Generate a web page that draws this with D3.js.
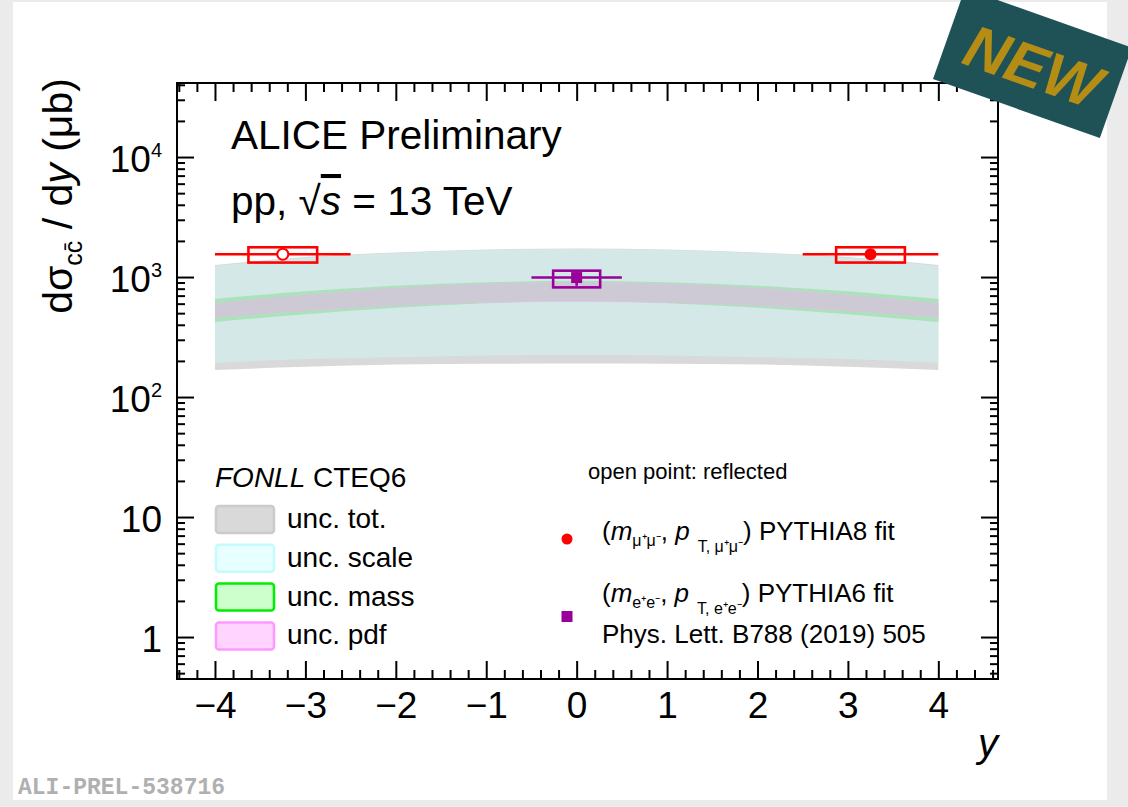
<!DOCTYPE html>
<html>
<head>
<meta charset="utf-8">
<script src="https://cdn.jsdelivr.net/npm/d3@7"></script>
<style>
  body { margin: 0; background: #ebebeb; }
  svg text { font-family: "Liberation Sans", Arial, sans-serif; }
</style>
</head>
<body>
<div class="chart"></div>
<script>
// FONLL bands at y = -4 ... 4
var bandY   = [-4, -3, -2, -1, 0, 1, 2, 3, 4];
var totHi   = [1260, 1470, 1600, 1695, 1730, 1695, 1600, 1470, 1260];
var totLo   = [168, 179, 187, 189, 190, 189, 187, 179, 168];
var scaleHi = [1235, 1448, 1582, 1680, 1715, 1680, 1582, 1448, 1235];
var scaleLo = [193, 207, 215, 222, 224, 222, 215, 207, 193];
var massHi  = [656, 760, 845, 905, 930, 905, 845, 760, 656];
var massLo  = [422, 490, 555, 605, 628, 605, 555, 490, 422];
var pdfHi   = [607, 716, 815, 885, 905, 885, 815, 716, 607];
var pdfLo   = [455, 518, 575, 610, 618, 610, 575, 518, 455];

// dimuon points (open one = reflected)
var muY      = [-3.25, 3.25];
var muVal    = [1550, 1550];
var muStat   = [60, 60];
var muSystLo = [1320, 1320];
var muSystHi = [1770, 1770];
var muXerr   = [0.75, 0.75];
var muBoxW   = [0.38, 0.38];
var muOpen   = [true, false];

// dielectron point
var eeY      = [0];
var eeVal    = [990];
var eeStat   = [145];
var eeSystLo = [820];
var eeSystHi = [1130];
var eeXerr   = [0.5];
var eeBoxW   = [0.26];

// ticks
var xTickValues = [-4, -3, -2, -1, 0, 1, 2, 3, 4];
var xTickLabels = ["\u22124", "\u22123", "\u22122", "\u22121", "0", "1", "2", "3", "4"];
var yTickValues = [1, 10, 100, 1000, 10000];
var yTickBase   = ["1", "10", "10", "10", "10"];
var yTickExp    = ["", "", "2", "3", "4"];

var legendLabels = ["unc. tot.", "unc. scale", "unc. mass", "unc. pdf"];

// frame
var Margin = {left: 177, top: 83};
var Width = 821, Height = 596;

var svg = d3.select(".chart").append("svg")
    .attr("width", 1128)
    .attr("height", 807);

// white canvas
svg.append("rect")
  .attr("x", 13).attr("y", 2)
  .attr("width", 1094).attr("height", 798)
  .attr("fill", "white");

var g = svg.append("g")
    .attr("transform", "translate(" + Margin.left + "," + Margin.top + ")");

var x = d3.scaleLinear().domain([-4.42, 4.66]).range([0, Width]);
var y = d3.scaleLog().domain([0.447, 41400]).range([Height, 0]);

// build band rows
function rows(lo, hi) {
  return bandY.map(function(v, i) { return {y: v, lo: lo[i], hi: hi[i]}; });
}
var overlapLo = massLo.map(function(v, i) { return Math.max(v, pdfLo[i]); });
var overlapHi = massHi.map(function(v, i) { return Math.min(v, pdfHi[i]); });

var band = d3.area()
  .curve(d3.curveMonotoneX)
  .x(function(d) { return x(d.y); })
  .y0(function(d) { return y(d.lo); })
  .y1(function(d) { return y(d.hi); });

g.append("path").datum(rows(totLo, totHi)).attr("d", band).attr("fill", "#d9d9d9");
g.append("path").datum(rows(scaleLo, scaleHi)).attr("d", band).attr("fill", "#d4e8e8");
g.append("path").datum(rows(massLo, massHi)).attr("d", band).attr("fill", "#a9e4b9");
g.append("path").datum(rows(pdfLo, pdfHi)).attr("d", band).attr("fill", "#e3c9ee");
g.append("path").datum(rows(overlapLo, overlapHi)).attr("d", band).attr("fill", "#cdcad5");

// data points
function drawPoints(ys, vals, stat, sLo, sHi, xerr, boxW, colour, marker, open) {
  var pts = ys.map(function(v, i) {
    return {y: v, v: vals[i], st: stat[i], lo: sLo[i], hi: sHi[i], xe: xerr[i], bw: boxW[i], open: open ? open[i] : false};
  });
  var p = g.append("g");
  // syst boxes
  p.selectAll(".box").data(pts).enter().append("rect")
    .attr("x", function(d) { return x(d.y - d.bw); })
    .attr("width", function(d) { return x(d.y + d.bw) - x(d.y - d.bw); })
    .attr("y", function(d) { return y(d.hi); })
    .attr("height", function(d) { return y(d.lo) - y(d.hi); })
    .attr("fill", "none")
    .attr("stroke", colour)
    .attr("stroke-width", 2.6);
  // x error bars
  p.selectAll(".xe").data(pts).enter().append("line")
    .attr("x1", function(d) { return x(d.y - d.xe); })
    .attr("x2", function(d) { return x(d.y + d.xe); })
    .attr("y1", function(d) { return y(d.v); })
    .attr("y2", function(d) { return y(d.v); })
    .attr("stroke", colour).attr("stroke-width", 2.6);
  // stat error bars
  p.selectAll(".ye").data(pts).enter().append("line")
    .attr("x1", function(d) { return x(d.y); })
    .attr("x2", function(d) { return x(d.y); })
    .attr("y1", function(d) { return y(d.v - d.st); })
    .attr("y2", function(d) { return y(d.v + d.st); })
    .attr("stroke", colour).attr("stroke-width", 2.6);
  if (marker == "circle") {
    p.selectAll(".m").data(pts).enter().append("circle")
      .attr("cx", function(d) { return x(d.y); })
      .attr("cy", function(d) { return y(d.v); })
      .attr("r", function(d) { return d.open ? 5.5 : 6; })
      .attr("fill", function(d) { return d.open ? "white" : colour; })
      .attr("stroke", colour)
      .attr("stroke-width", function(d) { return d.open ? 2 : 0; });
  } else {
    p.selectAll(".m").data(pts).enter().append("rect")
      .attr("x", function(d) { return x(d.y) - 5.5; })
      .attr("y", function(d) { return y(d.v) - 5.5; })
      .attr("width", 11).attr("height", 11)
      .attr("fill", colour);
  }
}
drawPoints(muY, muVal, muStat, muSystLo, muSystHi, muXerr, muBoxW, "#ff0000", "circle", muOpen);
drawPoints(eeY, eeVal, eeStat, eeSystLo, eeSystHi, eeXerr, eeBoxW, "#990099", "square");

// axes ------------------------------------------------------------
var xMinor = d3.range(-44, 47, 2).map(function(v) { return v / 10; })
  .filter(function(v) { return Math.abs(v - Math.round(v)) > 1e-6; });
var yMinor = [];
[0.1, 1, 10, 100, 1000, 10000].forEach(function(dec) {
  for (var k = 2; k <= 9; k++) {
    var v = dec * k;
    if (v >= 0.447 && v <= 41400) yMinor.push(v);
  }
});

function tickAxis(axis, transform) {
  var a = g.append("g").attr("transform", transform).call(axis);
  a.select(".domain").remove();
  a.selectAll("line").attr("stroke", "black").attr("stroke-width", 2);
  return a;
}

// bottom
var xAx = tickAxis(d3.axisBottom(x).tickValues(xTickValues).tickSize(-18).tickPadding(13)
  .tickFormat(function(d, i) { return xTickLabels[i]; }), "translate(0," + Height + ")");
xAx.selectAll("text").attr("font-size", 37).attr("fill", "black")
  .attr("font-family", "Liberation Sans, Arial, sans-serif");
tickAxis(d3.axisBottom(x).tickValues(xMinor).tickSize(-9).tickFormat(""), "translate(0," + Height + ")");
// top
tickAxis(d3.axisTop(x).tickValues(xTickValues).tickSize(-18).tickFormat(""), "translate(0,0)");
tickAxis(d3.axisTop(x).tickValues(xMinor).tickSize(-9).tickFormat(""), "translate(0,0)");

// left
var yAx = tickAxis(d3.axisLeft(y).tickValues(yTickValues).tickSize(-17).tickPadding(15)
  .tickFormat(""), "translate(0,0)");
yAx.selectAll("text").each(function(d, i) {
  var t = d3.select(this)
    .attr("font-size", 37).attr("fill", "black").attr("dy", "0.38em")
    .attr("font-family", "Liberation Sans, Arial, sans-serif");
  t.append("tspan").text(yTickBase[i]);
  if (yTickExp[i]) t.append("tspan").attr("font-size", 20).attr("dy", -15).text(yTickExp[i]);
});
tickAxis(d3.axisLeft(y).tickValues(yMinor).tickSize(-8).tickFormat(""), "translate(0,0)");
// right
tickAxis(d3.axisRight(y).tickValues(yTickValues).tickSize(-17).tickFormat(""), "translate(" + Width + ",0)");
tickAxis(d3.axisRight(y).tickValues(yMinor).tickSize(-8).tickFormat(""), "translate(" + Width + ",0)");

// frame
g.append("rect")
  .attr("width", Width).attr("height", Height)
  .attr("fill", "none").attr("stroke", "black").attr("stroke-width", 2);

// axis titles
svg.append("text")
  .attr("x", 998).attr("y", 757)
  .attr("text-anchor", "end")
  .attr("font-size", 40)
  .style("font-style", "italic")
  .text("y");

var ylab = svg.append("text")
  .attr("transform", "translate(72,196) rotate(-90)")
  .attr("text-anchor", "middle")
  .attr("font-size", 41);
ylab.append("tspan").text("d\u03c3");
ylab.append("tspan").attr("font-size", 25).attr("dy", 10).text("cc\u0304");
ylab.append("tspan").attr("dy", -10).text(" / d");
ylab.append("tspan").style("font-style", "italic").text("y");
ylab.append("tspan").text(" (\u03bcb)");

// header texts
svg.append("text")
  .attr("x", 231).attr("y", 149)
  .attr("font-size", 40.5)
  .text("ALICE Preliminary");

var sub = svg.append("text")
  .attr("x", 231).attr("y", 215)
  .attr("font-size", 40.5);
sub.append("tspan").text("pp,  \u221a");
sub.append("tspan").style("font-style", "italic").style("text-decoration", "overline").text("s");
sub.append("tspan").text(" = 13 TeV");

// FONLL legend
svg.append("text")
  .attr("x", 215).attr("y", 487)
  .attr("font-size", 28)
  .call(function(t) {
    t.append("tspan").style("font-style", "italic").text("FONLL");
    t.append("tspan").text(" CTEQ6");
  });

var legFill   = ["#d9d9d9", "#e8ffff", "#ccffcc", "#ffd5ff"];
var legStroke = ["#cbcbcb", "#c4fbfb", "#00ee00", "#ff99ff"];
var leg = svg.append("g").selectAll("g").data(legendLabels).enter().append("g")
  .attr("transform", function(d, i) { return "translate(216," + (506 + i * 38.8) + ")"; });
leg.append("rect")
  .attr("width", 58).attr("height", 27).attr("rx", 3)
  .attr("fill", function(d, i) { return legFill[i]; })
  .attr("stroke", function(d, i) { return legStroke[i]; })
  .attr("stroke-width", 2.5);
leg.append("text")
  .attr("x", 71).attr("y", 22)
  .attr("font-size", 28)
  .text(function(d) { return d; });

// data legend
svg.append("text")
  .attr("x", 588).attr("y", 479)
  .attr("font-size", 22)
  .text("open point: reflected");

svg.append("circle").attr("cx", 567).attr("cy", 539).attr("r", 5.5).attr("fill", "#ff0000");
svg.append("rect").attr("x", 561.5).attr("y", 611).attr("width", 11).attr("height", 11).attr("fill", "#990099");

function pairLabel(yBase, pair, gen) {
  var t = svg.append("text").attr("x", 602).attr("y", yBase).attr("font-size", 26);
  t.append("tspan").text("(");
  t.append("tspan").style("font-style", "italic").text("m");
  t.append("tspan").attr("font-size", 16).attr("dy", 6).text(pair);
  t.append("tspan").attr("dy", -6).text(", ");
  t.append("tspan").style("font-style", "italic").text("p");
  t.append("tspan").attr("font-size", 16).attr("dy", 12).attr("dx", 8).text("T, " + pair);
  t.append("tspan").attr("dy", -12).text(") " + gen + " fit");
}
pairLabel(540, "\u03bc\u207a\u03bc\u207b", "PYTHIA8");
pairLabel(602, "e\u207ae\u207b", "PYTHIA6");

svg.append("text")
  .attr("x", 602).attr("y", 643)
  .attr("font-size", 26)
  .text("Phys. Lett. B788 (2019) 505");

// preliminary id
svg.append("text")
  .attr("x", 18).attr("y", 794)
  .attr("font-size", 23)
  .attr("font-weight", "bold")
  .attr("fill", "#b0b0b0")
  .style("font-family", "'Liberation Mono', 'DejaVu Sans Mono', monospace")
  .text("ALI-PREL-538716");

// NEW banner
var tag = svg.append("g")
  .attr("transform", "translate(933,79) rotate(19.5)");
tag.append("rect")
  .attr("x", 0).attr("y", -96)
  .attr("width", 177).attr("height", 96)
  .attr("fill", "#1e5257");
tag.append("text")
  .attr("x", 90).attr("y", -46)
  .attr("dy", "0.36em")
  .attr("text-anchor", "middle")
  .attr("font-size", 60)
  .attr("font-weight", "bold")
  .style("font-style", "italic")
  .attr("fill", "#b58d15")
  .text("NEW");
</script>
</body>
</html>
